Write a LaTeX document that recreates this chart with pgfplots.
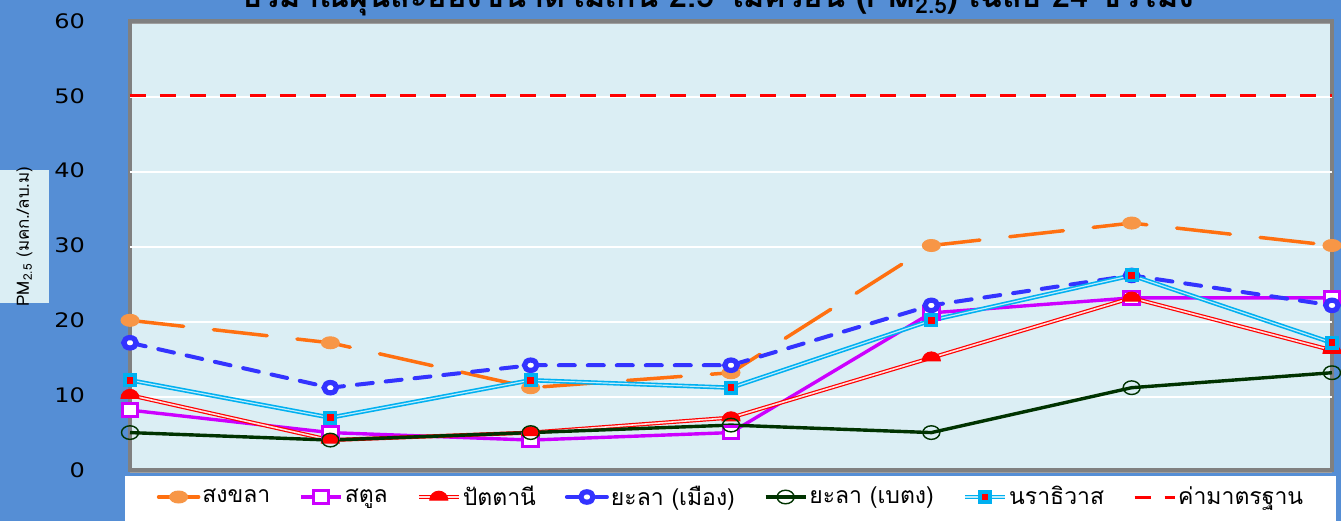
\documentclass[border=0pt]{standalone}
\usepackage{fontspec}
\usepackage{pgfplots}
\pgfplotsset{compat=1.18}
\usetikzlibrary{plotmarks}
\setmainfont[Script=Thai]{Loma}
\newfontfamily\numfont[FakeStretch=1.2]{DejaVu Sans}

\definecolor{bgblue}{HTML}{558ED5}
\definecolor{plotbg}{HTML}{DBEEF4}
\definecolor{songkhla}{RGB}{255,112,16}
\definecolor{songkhlamark}{HTML}{F79646}
\definecolor{satun}{HTML}{CC00FF}
\definecolor{yala}{HTML}{3333FF}
\definecolor{betong}{HTML}{003300}
\definecolor{nara}{HTML}{00B0F0}

% filled dome, flat side down
\pgfdeclareplotmark{dome}{%
  \pgfpathmoveto{\pgfpoint{-\pgfplotmarksize}{-0.35\pgfplotmarksize}}%
  \pgfpatharc{180}{0}{\pgfplotmarksize}%
  \pgfpathclose
  \pgfusepathqfillstroke}

\begin{document}
\begin{tikzpicture}
% page frame: 1 px = 0.5pt, origin at the lower left of the plot area
\fill[bgblue] (-65pt,-25.5pt) rectangle (605.5pt,235pt);
\fill[white] (-2.5pt,-25.5pt) rectangle (603pt,-3pt);
\fill[plotbg] (-65pt,83.5pt) rectangle (-40.5pt,150pt);
\node[rotate=90, font=\fontsize{8.5}{10}\selectfont] at (-52.75pt,116.75pt)
  {PM\textsubscript{2.5} (มคก./ลบ.ม)};
\node[anchor=base, font=\bfseries\fontsize{16.2}{19}\selectfont] at (294pt,231pt)
  {ปริมาณฝุ่นละอองขนาดไม่เกิน 2.5 ไมครอน (PM\textsubscript{2.5}) เฉลี่ย 24 ชั่วโมง};

\begin{axis}[
    at={(0,0)}, anchor=south west,
    scale only axis,
    width=601pt, height=224.5pt,
    xmin=0, xmax=6, ymin=0, ymax=60,
    xtick=\empty,
    ytick={0,10,...,60},
    axis background/.style={fill=plotbg},
    axis line style={draw=gray, line width=1.6pt},
    major tick length=0pt,
    ymajorgrids,
    major grid style={draw=gray!75, line width=1pt, yshift=-0.8pt},
    extra y ticks={10,20,30,40,50},
    extra y tick labels={},
    extra y tick style={grid=major, major grid style={draw=white, line width=1pt}},
    yticklabel style={font=\numfont\fontsize{10}{12}\selectfont, xshift=-19pt},
    tick label style={/pgf/number format/assume math mode=true},
    clip=false,
    legend columns=-1,
    legend style={at={(0.5,0)}, anchor=center, yshift=-13.5pt,
        draw=none, fill=none, inner sep=0pt,
        nodes={inner xsep=1pt},
        font=\fontsize{11.5}{13}\selectfont,
        /tikz/every even column/.append style={column sep=13.5pt}},
    legend cell align=left,
    legend image code/.code={\draw[mark repeat=2,mark phase=2]
        plot coordinates {(0pt,0pt) (10pt,0pt) (20pt,0pt)};},
]
\addplot[songkhla, line width=1.75pt, dash pattern=on 27pt off 15pt, line cap=round,
    mark=*, mark size=3pt,
    mark options={solid, fill=songkhlamark, draw=songkhlamark, line width=0.5pt, xscale=1.5}]
    coordinates {(0,20) (1,17) (2,11) (3,13) (4,30) (5,33) (6,30)};
\addlegendentry{สงขลา}

\addplot[satun, line width=1.7pt,
    mark=square*, mark size=3.2pt,
    mark options={solid, fill=white, draw=satun, line width=1.5pt, xscale=1.2}]
    coordinates {(0,8) (1,5) (2,4) (3,5) (4,21) (5,23) (6,23)};
\addlegendentry{สตูล}

\addplot[draw=red, double=red!12!white, double distance=0.8pt, line width=0.6pt,
    mark=dome, mark size=4.5pt,
    mark options={solid, fill=red, draw=red, line width=0.5pt}]
    coordinates {(0,10) (1,4) (2,5) (3,7) (4,15) (5,23) (6,16)};
\addlegendentry{ปัตตานี}

\addplot[yala, line width=2pt, dash pattern=on 8pt off 6.5pt, line cap=round,
    mark=*, mark size=2.6pt,
    mark options={solid, fill=white, draw=yala, line width=2.6pt, xscale=1.2}]
    coordinates {(0,17) (1,11) (2,14) (3,14) (4,22) (5,26) (6,22)};
\addlegendentry{ยะลา (เมือง)}

\addplot[betong, line width=1.7pt,
    mark=o, mark size=3.4pt,
    mark options={solid, draw=betong, line width=0.7pt, xscale=1.25}]
    coordinates {(0,5) (1,4) (2,5) (3,6) (4,5) (5,11) (6,13)};
\addlegendentry{ยะลา (เบตง)}

\addplot[draw=nara, double=nara!25!white, double distance=0.6pt, line width=0.8pt,
    mark=square*, mark size=2.6pt,
    mark options={solid, fill=red, draw=nara, line width=1.8pt}]
    coordinates {(0,12) (1,7) (2,12) (3,11) (4,20) (5,26) (6,17)};
\addlegendentry{นราธิวาส}

\addplot[red, line width=1.5pt, dash pattern=on 8pt off 7pt]
    coordinates {(0,50) (1,50) (2,50) (3,50) (4,50) (5,50) (6,50)};
\addlegendentry{ค่ามาตรฐาน}
\end{axis}

\pgfresetboundingbox
\path[use as bounding box] (-65pt,-25.5pt) rectangle (605.5pt,235pt);
\end{tikzpicture}
\end{document}
